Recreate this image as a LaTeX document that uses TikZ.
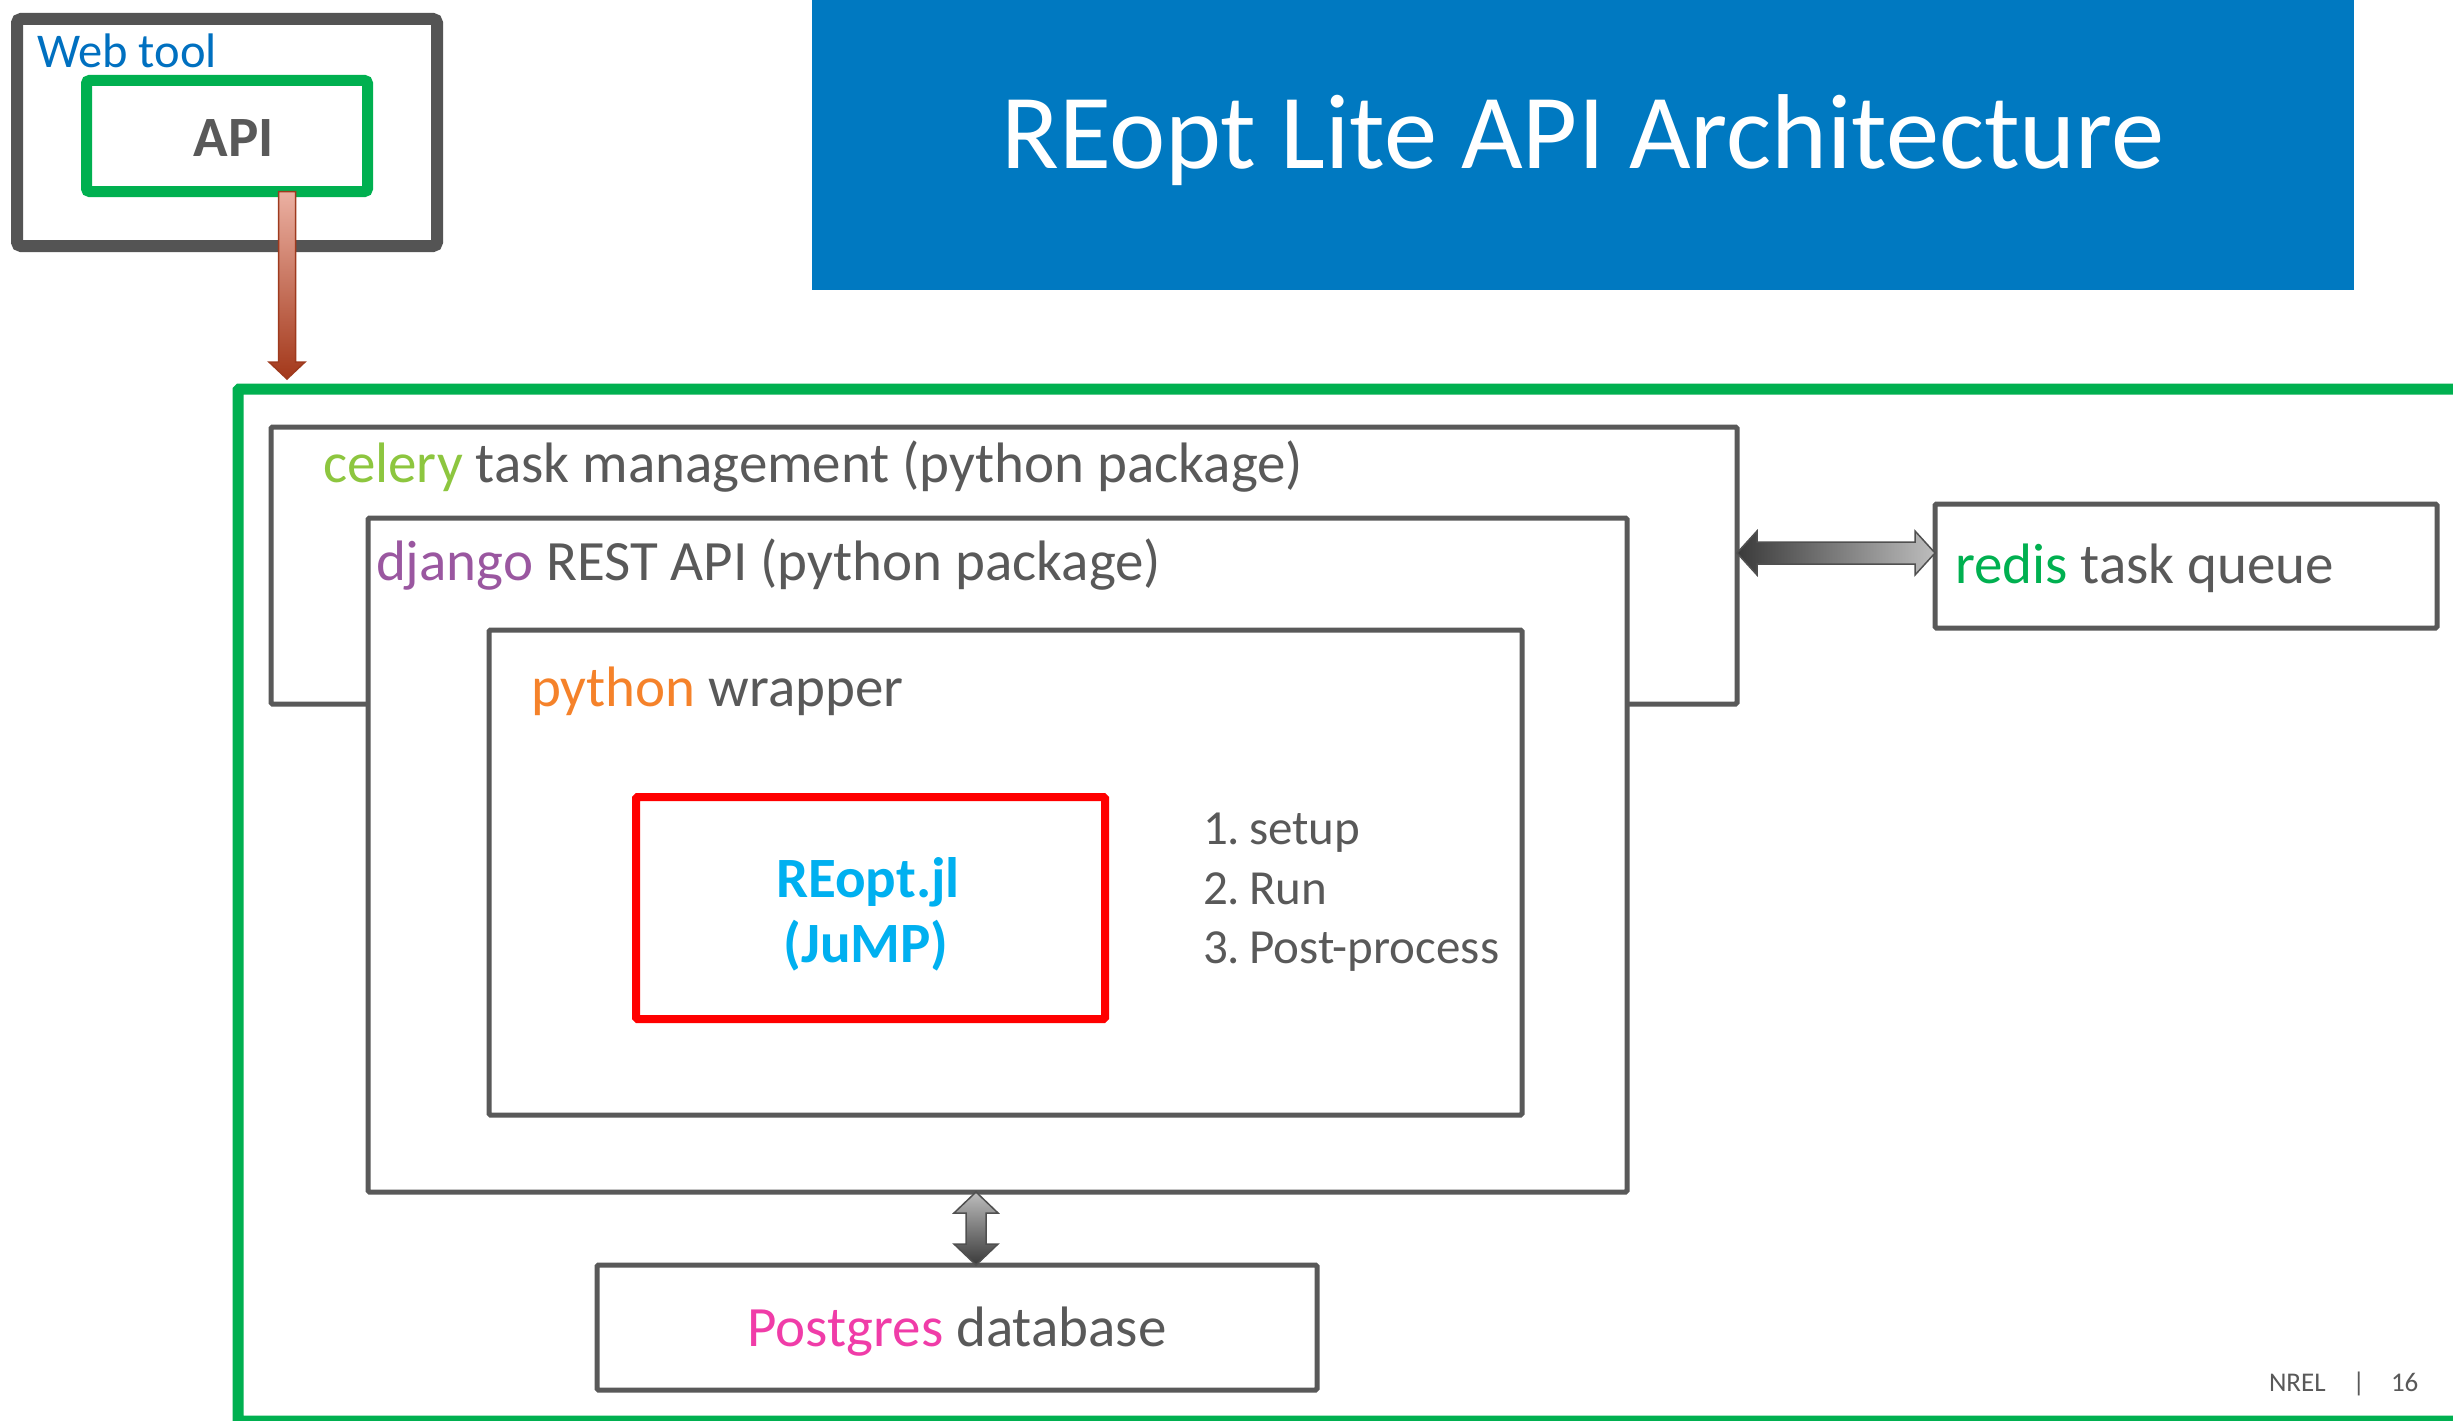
\documentclass[tikz,border=0pt]{standalone}
\usepackage{fontspec}
\setmainfont{Carlito}
\usetikzlibrary{calc}
\definecolor{txtgray}{HTML}{595959}
\definecolor{linegray}{HTML}{595959}
\definecolor{webgray}{HTML}{545454}
\definecolor{frgreen}{HTML}{00B050}
\definecolor{banblue}{HTML}{0079C1}
\definecolor{webblue}{HTML}{0070C0}
\definecolor{celgreen}{HTML}{8DC63F}
\definecolor{djpurple}{HTML}{9A57A0}
\definecolor{pyorange}{HTML}{F5822A}
\definecolor{redisgreen}{HTML}{00B050}
\definecolor{pgpink}{HTML}{F03CA8}
\definecolor{jlblue}{HTML}{00B0F0}
\definecolor{ardark}{HTML}{3A3A3A}
\definecolor{arlight}{HTML}{BDBDBD}
\definecolor{aroutline}{HTML}{505050}
\definecolor{rarlt}{HTML}{EBB0A2}
\definecolor{rardk}{HTML}{A3381A}
\definecolor{rarline}{HTML}{9E3A1E}
\begin{document}
\begin{tikzpicture}[x=1pt,y=-1pt,
  box/.style={draw=linegray, line width=5pt, fill=white, rectangle, inner sep=0pt, outer sep=0pt, rounded corners=1.5pt, anchor=north west},
  lbl/.style={inner sep=0pt, outer sep=0pt, text=txtgray, font=\fontsize{57}{66}\selectfont, anchor=base west},
  listlbl/.style={lbl, font=\fontsize{49}{60}\selectfont},
  jllbl/.style={lbl, anchor=base, text=jlblue, font=\fontsize{57}{66}\selectfont\bfseries},
  garrow/.style={draw=aroutline, line width=1.5pt, line join=miter},
]
\useasboundingbox (0,0) rectangle (2453,1421);
\clip (0,0) rectangle (2453,1421);
\fill[white] (0,0) rectangle (2453,1421);

% banner
\node[rectangle, fill=banblue, inner sep=0pt, outer sep=0pt, anchor=north west, minimum width=1542, minimum height=290] (banner) at (812,0) {};
\node[inner sep=0pt, text=white, font=\fontsize{106.5}{120}\selectfont, anchor=base] (title) at (1583,168) {REopt Lite API Architecture};

% main green frame
\node[box, draw=frgreen, line width=11pt, minimum width=2300, minimum height=1032] (main) at (238,389) {};

% nested boxes
\node[box, minimum width=1466, minimum height=277] (celery) at (271,427) {};
\node[box, minimum width=1259, minimum height=674] (django) at (368,518) {};
\node[box, minimum width=1033, minimum height=485] (python) at (489,630) {};
\node[box, draw=red, line width=8pt, minimum width=469, minimum height=222] (reopt) at (636,797) {};
\node[box, minimum width=502, minimum height=124] (redis) at (1935,504) {};
\node[box, minimum width=720, minimum height=125] (pg) at (597,1265) {};

% texts
\node[lbl] (tcel) at (323,482) {\textcolor{celgreen}{celery} task management (python package)};
\node[lbl] (tdj) at (376,580) {\textcolor{djpurple}{django} REST API (python package)};
\node[lbl] (tpy) at (531,706) {\textcolor{pyorange}{python} wrapper};
\node[jllbl] (tjl1) at (868,897) {REopt.jl};
\node[jllbl] (tjl2) at (866,962) {(JuMP)};
\node[listlbl] (l1) at (1203,844) {1.\hspace{9pt}setup};
\node[listlbl] (l2) at (1203,904) {2.\hspace{9pt}Run};
\node[listlbl] (l3) at (1203,963) {3.\hspace{9pt}Post-process};
\node[lbl] (tredis) at (1955,583) {\textcolor{redisgreen}{redis} task queue};
\node[lbl, anchor=base] (tpg) at (957,1346) {\textcolor{pgpink}{Postgres} database};
\node[lbl, font=\fontsize{27}{30}\selectfont] (nrel) at (2269,1391) {NREL\hspace{27pt}|\hspace{26pt}16};

% web tool
\node[box, draw=webgray, line width=12pt, rounded corners=4pt, minimum width=420, minimum height=227] (web) at (17,19) {};
\node[lbl, text=webblue, font=\fontsize{48.5}{56}\selectfont] (tweb) at (37,67) {Web tool};
\node[box, draw=frgreen, line width=11pt, rounded corners=3pt, minimum width=281, minimum height=111] (api) at (86.5,80.5) {};
\node[lbl, anchor=base, font=\fontsize{57}{64}\selectfont\bfseries] (tapi) at (234,156) {API};

% red arrow API -> main
\coordinate (rs) at ([xshift=60pt]api.south);
\coordinate (re) at ([yshift=10pt]rs |- main.north);
\shadedraw[top color=rarlt, bottom color=rardk, draw=rarline, line width=1.5pt, line join=miter]
  ($(rs)+(-8.5,0)$) -- ($(rs)+(8.5,0)$) -- ($(re)+(8.5,-17)$) -- ($(re)+(18,-17)$) -- (re)
  -- ($(re)+(-18,-17)$) -- ($(re)+(-8.5,-17)$) -- cycle;

% horizontal double arrow celery <-> redis
\coordinate (hl) at ([yshift=12.5pt]celery.east);
\coordinate (hr) at (hl -| redis.west);
\shadedraw[garrow, left color=ardark, right color=arlight]
  (hl) -- ($(hl)+(20,-22)$) -- ($(hl)+(20,-11)$) -- ($(hr)+(-20,-11)$) -- ($(hr)+(-20,-22)$) -- (hr)
  -- ($(hr)+(-20,22)$) -- ($(hr)+(-20,11)$) -- ($(hl)+(20,11)$) -- ($(hl)+(20,22)$) -- cycle;

% vertical double arrow django <-> postgres
\coordinate (vt) at ([xshift=-21.5pt]django.south);
\coordinate (vb) at (vt |- pg.north);
\shadedraw[garrow, top color=arlight, bottom color=ardark]
  (vt) -- ($(vt)+(22,21)$) -- ($(vt)+(10,21)$) -- ($(vb)+(10,-21)$) -- ($(vb)+(22,-21)$) -- (vb)
  -- ($(vb)+(-22,-21)$) -- ($(vb)+(-10,-21)$) -- ($(vt)+(-10,21)$) -- ($(vt)+(-22,21)$) -- cycle;
\end{tikzpicture}
\end{document}
